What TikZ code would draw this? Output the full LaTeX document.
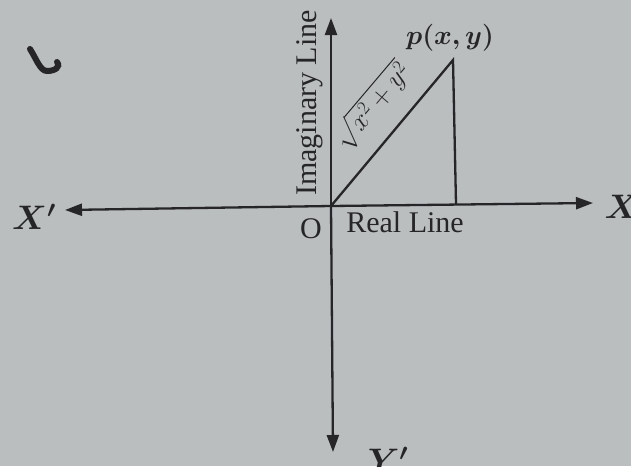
\RequirePackage{fix-cm}
\documentclass[tikz,border=0pt]{standalone}
\usepackage{amsmath,bm}
\usepackage{fontspec}
\setmainfont{Liberation Serif}
\usetikzlibrary{arrows.meta}
\definecolor{bg}{RGB}{186,190,191}
\definecolor{ink}{RGB}{38,38,40}
\begin{document}
\begin{tikzpicture}[x=1pt,y=-1pt,
  axis/.style={draw=ink,line width=2.3pt,-{Triangle[length=17pt,width=12pt]}},
  seg/.style={draw=ink,line width=2.3pt},
  lbl/.style={text=ink,inner sep=0pt,font=\fontsize{30}{32}\selectfont},
  axl/.style={text=ink,inner sep=0pt,font=\fontsize{34}{36}\selectfont}]
\fill[bg] (0,0) rectangle (631,466);
\useasboundingbox (0,0) rectangle (631,466);
\coordinate (O) at (331,206);
\coordinate (Xe) at (593,203);
\coordinate (Xs) at (65,210);
\coordinate (Ye) at (331,18);
\coordinate (Ys) at (333,452);
\coordinate (P) at (453,60);
\coordinate (F) at (456,204);
\draw[axis] (O) -- (Xe);
\draw[axis] (O) -- (Xs);
\draw[axis] (O) -- (Ye);
\draw[axis] (O) -- (Ys);
\draw[seg] (O) -- (P) -- (F);
\node[axl] (xl) at (622,207) {$\bm{X}$};
\node[axl] (xpl) at (34,217) {$\bm{X'}$};
\node[axl] (ypl) at (388,460) {$\bm{Y'}$};
\node[lbl] (ol) at (311,229) {O};
\node[lbl] (rl) at (405,222) {Real Line};
\node[lbl,rotate=90] (il) at (310,103) {Imaginary Line};
\node[lbl,font=\fontsize{27}{29}\selectfont] (pl) at (450,38) {$\bm{p(x,y)}$};
\node[lbl,rotate=49.7,font=\fontsize{27}{29}\selectfont] (sq) at (372,106) {$\sqrt{x^2+y^2}$};
\draw[ink,line width=6pt,line cap=round] (30,49) .. controls (36,58) and (40,71) .. (47,71) .. controls (55,71) and (61,67) .. (57,62);
\end{tikzpicture}
\end{document}
